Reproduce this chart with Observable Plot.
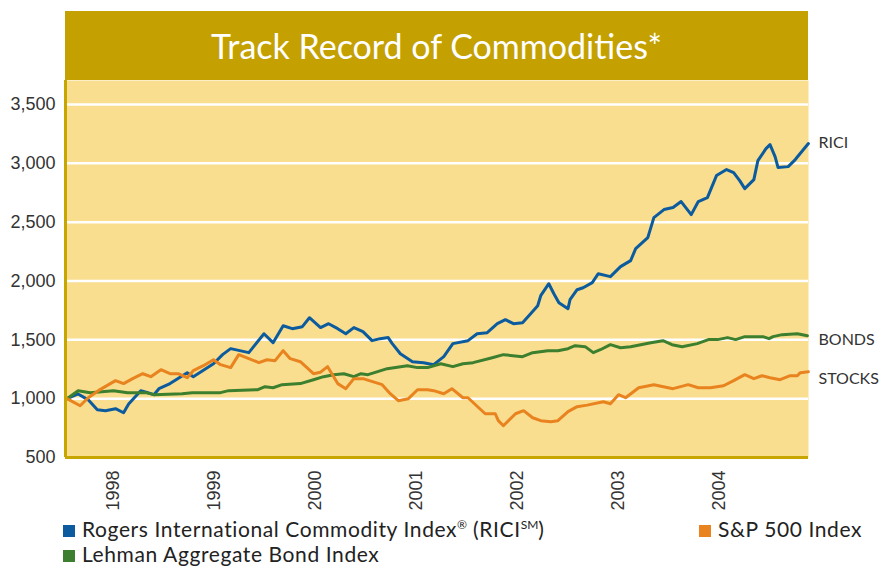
<!DOCTYPE html>
<html>
<head>
<meta charset="utf-8">
<script src="https://cdn.jsdelivr.net/npm/d3@7"></script>
<script src="https://cdn.jsdelivr.net/npm/@observablehq/plot@0.6"></script>
<style>
  html, body { margin: 0; padding: 0; background: #ffffff; }
  #page { position: relative; width: 881px; height: 566px; overflow: hidden; }
  #banner { position: absolute; left: 65px; top: 11px; width: 743px; height: 69px; background: #C4A100;
            color: #ffffff; font-family: Lato, "Open Sans", sans-serif; font-size: 34px; text-align: center; line-height: 70px; }
  #chart { position: absolute; left: 0; top: 0; }
  .leg { position: absolute; font-family: Lato, "Open Sans", sans-serif; font-size: 21px; letter-spacing: 0.6px; color: #222; white-space: nowrap; line-height: 24px; height: 24px; }
  .sw { display: inline-block; width: 12px; height: 12px; margin-right: 7px; vertical-align: 0px; }
  sup { font-size: 12px; vertical-align: 8px; line-height: 0; letter-spacing: 0; }
</style>
</head>
<body>
<div id="page">
  <div id="chart"></div>
  <div id="banner"></div>
  <div id="legend"></div>
</div>
<script>
// ---- Data ----
const title = "Track Record of Commodities*";
const yTicks = [500, 1000, 1500, 2000, 2500, 3000, 3500];
const tickYears = [1998, 1999, 2000, 2001, 2002, 2003, 2004];

const riciYears = [1998.04,1998.15,1998.25,1998.34,1998.42,1998.52,1998.60,1998.65,1998.77,1998.84,1998.90,1998.95,
  1999.06,1999.23,1999.29,1999.49,1999.58,1999.66,1999.84,1999.99,2000.08,2000.18,2000.27,2000.37,2000.44,2000.55,
  2000.63,2000.72,2000.80,2000.88,2000.97,2001.06,2001.14,2001.22,2001.26,2001.34,2001.46,2001.57,2001.67,2001.77,
  2001.86,2002.01,2002.10,2002.20,2002.30,2002.38,2002.46,2002.55,2002.63,2002.70,2002.73,2002.81,2002.86,2002.91,
  2003.00,2003.02,2003.09,2003.15,2003.24,2003.30,2003.42,2003.52,2003.62,2003.67,2003.79,2003.85,2003.95,2004.04,
  2004.12,2004.22,2004.29,2004.38,2004.47,2004.57,2004.64,2004.70,2004.75,2004.84,2004.88,2004.96,2005.00,2005.05,
  2005.08,2005.18,2005.25,2005.38];
const riciValues = [1000,1040,990,905,898,915,880,955,1068,1050,1034,1085,
  1128,1221,1187,1297,1374,1425,1391,1552,1476,1620,1595,1612,1688,1604,
  1637,1595,1552,1604,1570,1493,1510,1519,1468,1382,1314,1306,1289,1357,
  1468,1493,1552,1561,1637,1671,1637,1646,1722,1790,1875,1977,1892,1816,
  1765,1841,1926,1943,1986,2062,2037,2122,2173,2275,2369,2539,2607,2624,
  2675,2564,2675,2709,2896,2947,2921,2853,2785,2862,3023,3125,3159,3057,
  2964,2972,3032,3168];

const bondYears = [1998.04,1998.15,1998.27,1998.50,1998.64,1998.82,1998.90,1999.18,1999.28,1999.56,1999.64,1999.93,
  2000.00,2000.08,2000.17,2000.35,2000.48,2000.58,2000.68,2000.78,2000.88,2000.95,2001.02,2001.21,2001.41,2001.51,
  2001.61,2001.74,2001.86,2001.96,2002.06,2002.25,2002.36,2002.55,2002.65,2002.80,2002.90,2003.00,2003.07,2003.17,
  2003.25,2003.32,2003.42,2003.52,2003.62,2003.82,2003.94,2004.03,2004.13,2004.28,2004.39,2004.48,2004.58,2004.66,
  2004.75,2004.93,2004.99,2005.03,2005.12,2005.27,2005.37];
const bondValues = [1000,1068,1051,1068,1051,1051,1034,1042,1051,1051,1068,1076,
  1102,1093,1119,1128,1161,1187,1204,1212,1187,1212,1204,1255,1280,1264,
  1264,1297,1272,1297,1306,1348,1374,1357,1391,1408,1408,1425,1450,1442,
  1391,1416,1459,1433,1442,1476,1493,1459,1442,1468,1502,1502,1519,1502,
  1527,1527,1510,1527,1544,1552,1535];

const stockYears = [1998.04,1998.17,1998.25,1998.35,1998.52,1998.60,1998.69,1998.79,1998.87,1998.97,1999.06,1999.14,
  1999.23,1999.29,1999.39,1999.49,1999.56,1999.66,1999.74,1999.84,1999.94,2000.02,2000.10,2000.18,2000.25,2000.35,
  2000.48,2000.55,2000.62,2000.72,2000.80,2000.88,2000.97,2001.16,2001.24,2001.32,2001.42,2001.51,2001.61,2001.67,
  2001.77,2001.85,2001.96,2002.01,2002.18,2002.28,2002.31,2002.36,2002.48,2002.56,2002.65,2002.73,2002.83,2002.90,
  2003.00,2003.09,2003.19,2003.35,2003.42,2003.50,2003.57,2003.70,2003.85,2004.04,2004.19,2004.29,2004.41,2004.54,
  2004.64,2004.75,2004.84,2004.92,2005.00,2005.10,2005.20,2005.27,2005.30,2005.38];
const stockValues = [1000,940,1008,1068,1153,1128,1170,1212,1187,1246,1212,1212,
  1178,1238,1280,1331,1289,1264,1374,1340,1306,1331,1323,1408,1340,1314,
  1212,1225,1272,1128,1085,1170,1170,1119,1042,983,1000,1076,1076,1068,
  1042,1085,1008,1008,872,872,813,770,872,898,838,813,804,813,
  890,932,945,974,957,1034,1008,1093,1119,1085,1119,1093,1093,1110,
  1153,1204,1170,1195,1178,1161,1195,1195,1221,1229];

const seriesNames = ["RICI", "BONDS", "STOCKS"];
const legendNames = ["Rogers International Commodity Index<sup>\u00AE</sup> (RICI<sup>SM</sup>)", "Lehman Aggregate Bond Index", "S&amp;P 500 Index"];
const labelValues = [3170, 1500, 1170];

// ---- Styles ----
const colors = {RICI: "#0B5B9E", BONDS: "#3C7F2E", STOCKS: "#E8831F"};
const gold = "#C8A600";
const bg = "#F9DE8F";
const xDomain = [1998.025, 2005.381];

const rows = [];
riciYears.forEach((t, i) => rows.push({series: "RICI", t, v: riciValues[i]}));
bondYears.forEach((t, i) => rows.push({series: "BONDS", t, v: bondValues[i]}));
stockYears.forEach((t, i) => rows.push({series: "STOCKS", t, v: stockValues[i]}));

const endLabels = seriesNames.map((s, i) => ({series: s, v: labelValues[i]}));

document.getElementById("banner").textContent = title;

const chart = Plot.plot({
  width: 881,
  height: 515,
  marginLeft: 65,
  marginRight: 73,
  marginTop: 80,
  marginBottom: 58,
  style: {fontFamily: "'Liberation Sans', Arial, sans-serif", background: "transparent", overflow: "visible"},
  x: {domain: xDomain, axis: null},
  y: {domain: [500, 3704], axis: null},
  marks: [
    Plot.frame({fill: bg, stroke: "none"}),
    Plot.ruleY(yTicks.filter(d => d > 500), {stroke: "white", strokeWidth: 2.5}),
    Plot.line(rows, {x: "t", y: "v", z: "series", stroke: d => colors[d.series], strokeWidth: 3, strokeLinejoin: "round"}),
    Plot.ruleX([xDomain[0]], {stroke: gold, strokeWidth: 3}),
    Plot.ruleY([500], {stroke: gold, strokeWidth: 3, x1: xDomain[0], x2: xDomain[1]}),
    Plot.axisY(yTicks, {label: null, tickSize: 0, tickPadding: 10, fontSize: 18, fill: "#333", tickFormat: d3.format(",")}),
    Plot.text(tickYears, {x: d => d + 0.5, y: 500, text: d => String(d), rotate: -90, textAnchor: "end", dy: 13, fontSize: 18, fill: "#333"}),
    Plot.text(endLabels, {x: xDomain[1], y: "v", text: "series", textAnchor: "start", dx: 10, fontSize: 16, fill: "#333", fontFamily: "Lato, sans-serif"})
  ]
});
document.getElementById("chart").appendChild(chart);

const legend = document.getElementById("legend");
const legPos = [{left: 63, top: 517, s: "RICI"}, {left: 63, top: 542, s: "BONDS"}, {left: 699, top: 517, s: "STOCKS"}];
legPos.forEach((p, i) => {
  const d = document.createElement("div");
  d.className = "leg";
  d.style.left = p.left + "px";
  d.style.top = p.top + "px";
  d.innerHTML = `<span class="sw" style="background:${colors[p.s]}"></span>${legendNames[i]}`;
  legend.appendChild(d);
});
</script>
</body>
</html>
